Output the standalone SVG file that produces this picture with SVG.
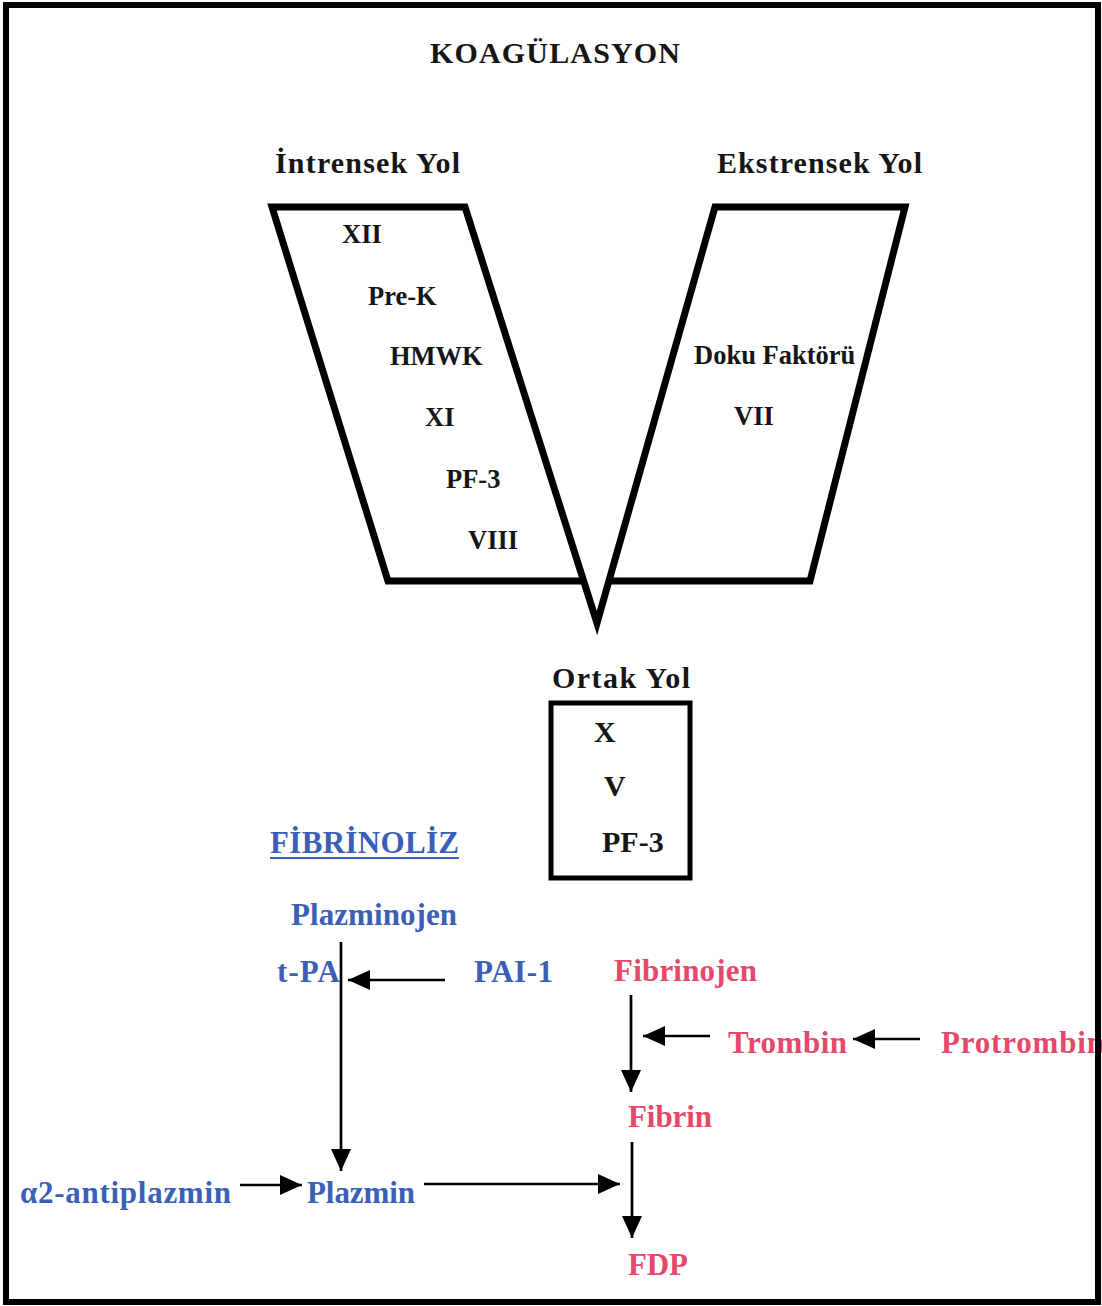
<svg xmlns="http://www.w3.org/2000/svg" width="1102" height="1306" viewBox="0 0 1102 1306">
<defs>
<style>
text{font-family:"Liberation Serif","Times New Roman",serif;font-weight:bold;}
.k{fill:#161616;}
.h{font-size:30px;}
.i{font-size:26.5px;}
.b{font-size:30px;}
.blue{fill:#3b5fb6;font-size:31px;}
.red{fill:#e6486a;font-size:31px;}
.shape{fill:none;stroke:#000;stroke-width:7;stroke-linejoin:miter;stroke-miterlimit:20;}
.con{stroke:#000;stroke-width:2.7;fill:none;}
</style>
<marker id="ah" viewBox="0 0 22 20" refX="22" refY="10" markerWidth="22" markerHeight="20" markerUnits="userSpaceOnUse" orient="auto">
<path d="M0,0 L22,10 L0,20 Z" fill="#000"/>
</marker>
</defs>
<rect x="0" y="0" width="1102" height="1306" fill="#fff"/>

<g id="title"><text class="k h" x="555" y="63" text-anchor="middle" textLength="250" lengthAdjust="spacing">KOAGÜLASYON</text></g>

<g id="v-shape"><path class="shape" d="M582,581 L388,581 L272,207 L465,207 L597,623 L715,207 L905,207 L810,581 L610,581"/></g>

<g id="intrensek">
<text class="k h" x="275" y="173" textLength="185" lengthAdjust="spacing">İntrensek Yol</text>
<text class="k i" x="342" y="243">XII</text>
<text class="k i" x="368" y="305">Pre-K</text>
<text class="k i" x="390" y="365">HMWK</text>
<text class="k i" x="425" y="426">XI</text>
<text class="k i" x="446" y="488">PF-3</text>
<text class="k i" x="468" y="549">VIII</text>
</g>

<g id="ekstrensek">
<text class="k h" x="717" y="173" textLength="205" lengthAdjust="spacing">Ekstrensek Yol</text>
<text class="k i" x="694" y="364">Doku Faktörü</text>
<text class="k i" x="734" y="425">VII</text>
</g>

<g id="ortak">
<text class="k h" x="552" y="688" textLength="138" lengthAdjust="spacing">Ortak Yol</text>
<rect x="551" y="703" width="139" height="175" fill="none" stroke="#000" stroke-width="5"/>
<text class="k b" x="594" y="742">X</text>
<text class="k b" x="604" y="796">V</text>
<text class="k b" x="602" y="852">PF-3</text>
</g>

<g id="fibrinoliz">
<text class="blue" x="270" y="853" textLength="189" lengthAdjust="spacing">FİBRİNOLİZ</text>
<line x1="270" y1="858" x2="459" y2="858" stroke="#3b5fb6" stroke-width="2"/>
</g>

<g id="plazminojen"><text class="blue" x="291" y="925" textLength="166" lengthAdjust="spacing">Plazminojen</text></g>
<g id="tpa"><text class="blue" x="277" y="982" textLength="63" lengthAdjust="spacing">t-PA</text></g>
<g id="pai1"><text class="blue" x="474" y="982" textLength="79" lengthAdjust="spacing">PAI-1</text></g>
<g id="a2antiplazmin"><text class="blue" x="20" y="1203" textLength="211" lengthAdjust="spacing">α2-antiplazmin</text></g>
<g id="plazmin"><text class="blue" x="307" y="1203" textLength="108" lengthAdjust="spacing">Plazmin</text></g>

<g id="fibrinojen"><text class="red" x="614" y="981" textLength="143" lengthAdjust="spacing">Fibrinojen</text></g>
<g id="trombin"><text class="red" x="728" y="1053" textLength="119" lengthAdjust="spacing">Trombin</text></g>
<g id="protrombin"><text class="red" x="941" y="1053" textLength="163" lengthAdjust="spacing">Protrombin</text></g>
<g id="fibrin"><text class="red" x="628" y="1127" textLength="84" lengthAdjust="spacing">Fibrin</text></g>
<g id="fdp"><text class="red" x="628" y="1275" textLength="60" lengthAdjust="spacing">FDP</text></g>

<g id="connectors">
<line class="con" x1="341" y1="942" x2="341" y2="1171" marker-end="url(#ah)"/>
<line class="con" x1="445" y1="980" x2="348" y2="980" marker-end="url(#ah)"/>
<line class="con" x1="240" y1="1185" x2="302" y2="1185" marker-end="url(#ah)"/>
<line class="con" x1="424" y1="1184" x2="620" y2="1184" marker-end="url(#ah)"/>
<line class="con" x1="631" y1="995" x2="631" y2="1092" marker-end="url(#ah)"/>
<line class="con" x1="710" y1="1036" x2="643" y2="1036" marker-end="url(#ah)"/>
<line class="con" x1="920" y1="1039" x2="853" y2="1039" marker-end="url(#ah)"/>
<line class="con" x1="632" y1="1142" x2="632" y2="1238" marker-end="url(#ah)"/>
</g>

<g id="frame"><rect x="6" y="5" width="1092" height="1297" fill="none" stroke="#000" stroke-width="6"/></g>
</svg>
